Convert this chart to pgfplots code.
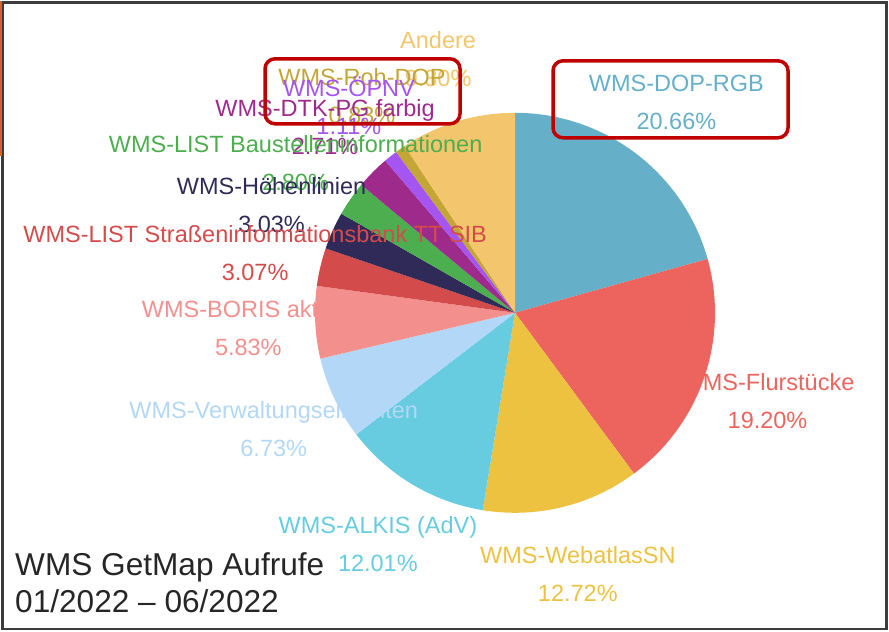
\documentclass[border=0pt]{standalone}
\usepackage{fontspec}
\setmainfont{Liberation Sans}
\usepackage{pgfplots}
\usepackage{pgfplotstable}
\pgfplotsset{compat=1.18}

\definecolor{cDOP}{HTML}{66AFC9}
\definecolor{cFlur}{HTML}{EC645D}
\definecolor{cWeb}{HTML}{EDC240}
\definecolor{cAlkis}{HTML}{67CCDF}
\definecolor{cVerw}{HTML}{B3D7F6}
\definecolor{cBoris}{HTML}{F3908E}
\definecolor{cSib}{HTML}{D34B4B}
\definecolor{cHoehe}{HTML}{2F2A57}
\definecolor{cBau}{HTML}{4CAE4F}
\definecolor{cDtk}{HTML}{9E2A8C}
\definecolor{cOepnv}{HTML}{A455F2}
\definecolor{cRoh}{HTML}{C3A635}
\definecolor{cAndere}{HTML}{F3C56C}
\definecolor{cRed}{HTML}{C00000}
\definecolor{cFrame}{HTML}{3C3C3C}
\definecolor{cTitle}{HTML}{262626}
\definecolor{cOrange}{HTML}{D8602A}

\pgfplotstableread[col sep=comma]{
label,value,color
WMS-DOP-RGB,20.66,cDOP
WMS-Flurstücke,19.20,cFlur
WMS-WebatlasSN,12.72,cWeb
WMS-ALKIS (AdV),12.01,cAlkis
WMS-Verwaltungseinheiten,6.73,cVerw
WMS-BORIS aktuell,5.83,cBoris
WMS-LIST Straßeninformationsbank TT SIB,3.07,cSib
WMS-Höhenlinien,3.03,cHoehe
WMS-LIST Baustelleninformationen,2.80,cBau
WMS-DTK-PG farbig,2.71,cDtk
WMS-ÖPNV,1.11,cOepnv
WMS-Roh-DOP,0.83,cRoh
Andere,9.30,cAndere
}\piedata

\tikzset{pielabel/.style={align=center, inner sep=0pt, font=\fontsize{23.5}{38}\selectfont}}

\begin{document}
\begin{tikzpicture}
\begin{axis}[scale only axis, width=889pt, height=631pt,
  xmin=0, xmax=889, ymin=0, ymax=631, hide axis, clip=false]
\path (axis cs:0,0) rectangle (axis cs:889,631);
\pgfplotstablegetrowsof{\piedata}
\pgfmathtruncatemacro\N{\pgfplotsretval-1}
% wedges
\gdef\mycum{0}
\foreach \i in {0,...,\N}{
  \pgfplotstablegetelem{\i}{value}\of\piedata \let\myv\pgfplotsretval
  \pgfplotstablegetelem{\i}{color}\of\piedata \let\myc\pgfplotsretval
  \pgfmathsetmacro\mya{90-3.6*\mycum}
  \pgfmathsetmacro\myb{90-3.6*(\mycum+\myv)}
  \edef\tmp{\noexpand\fill[\myc] (axis cs:515,319) -- ++(\mya:200pt) arc[start angle=\mya, end angle=\myb, radius=200pt] -- cycle;}
  \tmp
  \pgfmathsetmacro\newcum{\mycum+\myv}
  \xdef\mycum{\newcum}
}
% labels (reverse order, earlier ones on top)
\gdef\myend{100}
\foreach \i in {\N,...,0}{
  \pgfplotstablegetelem{\i}{value}\of\piedata \let\myv\pgfplotsretval
  \pgfplotstablegetelem{\i}{color}\of\piedata \let\myc\pgfplotsretval
  \pgfplotstablegetelem{\i}{label}\of\piedata \let\myl\pgfplotsretval
  \pgfmathsetmacro\mym{90-3.6*(\myend-\myv/2)}
  \edef\tmp{\noexpand\path (axis cs:515,317) ++(\mym:267pt) node[pielabel, text=\myc] {\myl\noexpand\\\myv\noexpand\%};}
  \tmp
  \pgfmathsetmacro\newend{\myend-\myv}
  \xdef\myend{\newend}
}
% annotation boxes
\draw[line width=3.5pt, cRed, rounded corners=10pt] (axis cs:265,573) rectangle (axis cs:460,508);
\draw[line width=3.5pt, cRed, rounded corners=10pt] (axis cs:553,571) rectangle (axis cs:788,494);
% title
\node[anchor=base west, inner sep=0pt, font=\fontsize{31.6}{37}\selectfont, text=cTitle] at (axis cs:15,56) {WMS GetMap Aufrufe};
\node[anchor=base west, inner sep=0pt, font=\fontsize{31.6}{37}\selectfont, text=cTitle] at (axis cs:15,19) {01/2022 – 06/2022};
% frame
\draw[line width=2.5pt, cFrame] (axis cs:2.5,3) rectangle (axis cs:886.5,629.5);
\draw[line width=1.6pt, cOrange] (axis cs:0.8,631) -- (axis cs:0.8,476);
\end{axis}
\end{tikzpicture}
\end{document}
